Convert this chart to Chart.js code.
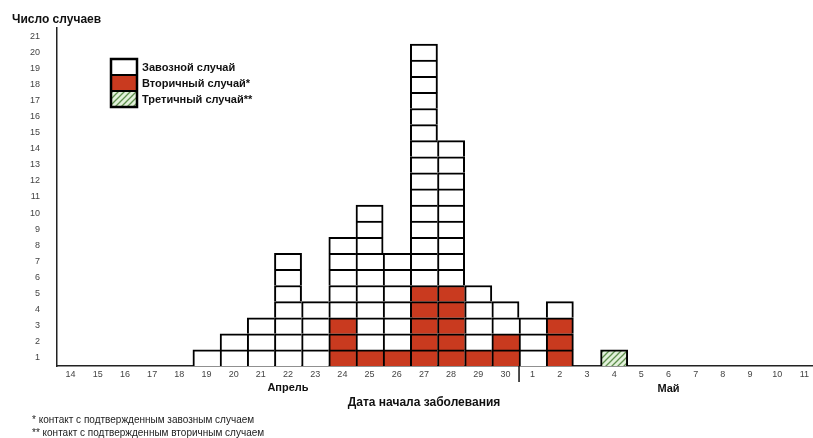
<!DOCTYPE html>
<html>
<head>
<meta charset="utf-8">
<script src="https://cdn.jsdelivr.net/npm/chart.js@4.4.1/dist/chart.umd.min.js"></script>
<style>
  html, body { margin: 0; padding: 0; background: #fff; overflow: hidden; }
  #wrap { position: relative; width: 818px; height: 438px; }
</style>
</head>
<body>
<div id="wrap"><canvas id="graf"></canvas></div>
<script>
// дни: 14–30 апреля, 1–11 мая
const dias = ['14','15','16','17','18','19','20','21','22','23','24','25','26','27','28','29','30',
              '1','2','3','4','5','6','7','8','9','10','11'];
const vtoricnye = [0,0,0,0,0,0,0,0,0,0,3,1,1,5,5,1,2, 0,3,0,0,0,0,0,0,0,0,0];
const zavoznye  = [0,0,0,0,0,1,2,3,7,4,5,9,6,15,9,4,2, 3,1,0,0,0,0,0,0,0,0,0];
const tretichnye = [0,0,0,0,0,0,0,0,0,0,0,0,0,0,0,0,0, 0,0,0,1,0,0,0,0,0,0,0];
const yMarcas = [1,2,3,4,5,6,7,8,9,10,11,12,13,14,15,16,17,18,19,20,21];

const VERMELHO = '#c93a1f';
const fonte = '"Liberation Sans", Arial, sans-serif';

// штриховка для третичных случаев
const hachura = (() => {
  const c = document.createElement('canvas');
  c.width = 6; c.height = 6;
  const g = c.getContext('2d');
  g.fillStyle = '#e2f1da';
  g.fillRect(0, 0, 6, 6);
  g.strokeStyle = '#5e8f4c';
  g.lineWidth = 1.3;
  g.beginPath();
  g.moveTo(-1, 7); g.lineTo(7, -1);
  g.moveTo(-4, 4); g.lineTo(4, -4);
  g.moveTo(2, 10); g.lineTo(10, 2);
  g.stroke();
  return g.createPattern(c, 'repeat');
})();

const total = dias.map((_, i) => vtoricnye[i] + zavoznye[i] + tretichnye[i]);
const niveis = Math.max(...total);

const corCaixa = (nivel, i) => {
  if (nivel < vtoricnye[i]) return VERMELHO;
  if (nivel < vtoricnye[i] + zavoznye[i]) return '#ffffff';
  return hachura;
};

// каждый ярус — отдельный набор, чтобы каждый случай был своей клеткой
const datasets = [];
for (let k = 0; k < niveis; k++) {
  datasets.push({
    data: total.map(t => t > k ? 1 : null),
    backgroundColor: ctx => corCaixa(k, ctx.dataIndex),
    borderColor: '#000',
    borderWidth: ctx => {
      const i = ctx.dataIndex;
      const proxVazio = i + 1 >= total.length || total[i + 1] <= k;
      return { top: 2, left: 2, right: proxVazio ? 2 : 0, bottom: 0 };
    },
    borderSkipped: false,
    barPercentage: 1,
    categoryPercentage: 1
  });
}

const extras = {
  id: 'extras',
  afterDraw(chart) {
    const { ctx, scales: { x } } = chart;
    const base = chart.chartArea.bottom;
    ctx.save();

    // заголовок оси Y
    ctx.fillStyle = '#111';
    ctx.font = `bold 12px ${fonte}`;
    ctx.textAlign = 'left';
    ctx.textBaseline = 'middle';
    ctx.fillText('Число случаев', 12, 20);

    // разделитель апрель/май
    const sep = (x.getPixelForValue(16) + x.getPixelForValue(17)) / 2;
    ctx.strokeStyle = '#111';
    ctx.lineWidth = 1.5;
    ctx.beginPath();
    ctx.moveTo(sep, base);
    ctx.lineTo(sep, base + 16);
    ctx.stroke();

    // месяцы
    ctx.font = `bold 11px ${fonte}`;
    ctx.textAlign = 'center';
    ctx.fillText('Апрель', x.getPixelForValue(8), base + 22);
    ctx.fillText('Май', x.getPixelForValue(22), base + 23);

    // подпись оси X
    ctx.font = `bold 12px ${fonte}`;
    ctx.fillText('Дата начала заболевания', 424, base + 37);

    // сноски
    ctx.font = `10px ${fonte}`;
    ctx.textAlign = 'left';
    ctx.fillStyle = '#222';
    ctx.fillText('* контакт с подтвержденным завозным случаем', 32, 420);
    ctx.fillText('** контакт с подтвержденным вторичным случаем', 32, 433);

    // легенда
    const itens = [
      ['Завозной случай', '#ffffff'],
      ['Вторичный случай*', VERMELHO],
      ['Третичный случай**', hachura]
    ];
    const lx = 111, ly = 59, lw = 26, lh = 16;
    itens.forEach(([txt, cor], j) => {
      const y0 = ly + j * lh;
      ctx.fillStyle = cor;
      ctx.fillRect(lx, y0, lw, lh);
      ctx.strokeStyle = '#000';
      ctx.lineWidth = 2;
      ctx.strokeRect(lx, y0, lw, lh);
      ctx.fillStyle = '#111';
      ctx.font = `bold 11px ${fonte}`;
      ctx.fillText(txt, lx + lw + 5, y0 + lh / 2 + 0.5);
    });
    ctx.lineWidth = 2.5;
    ctx.strokeRect(lx, ly, lw, lh * 3);
    ctx.restore();
  }
};

new Chart(document.getElementById('graf'), {
  type: 'bar',
  data: { labels: dias, datasets },
  options: {
    responsive: true,
    maintainAspectRatio: false,
    animation: false,
    layout: { padding: { top: 28, left: 0, right: 0, bottom: 0 } },
    plugins: { legend: { display: false }, tooltip: { enabled: false } },
    scales: {
      x: {
        stacked: true,
        grid: { display: false },
        border: { display: true, color: '#222', width: 1.5 },
        ticks: { color: '#444', font: { family: fonte, size: 9 }, padding: -5, maxRotation: 0, autoSkip: false },
        afterFit: s => { s.height = 72; }
      },
      y: {
        stacked: true,
        min: 0,
        max: 21,
        grid: { display: false },
        border: { display: true, color: '#222', width: 1.5 },
        afterBuildTicks: axis => { axis.ticks = yMarcas.map(v => ({ value: v - 0.5 })); },
        ticks: {
          color: '#444',
          font: { family: fonte, size: 9 },
          padding: 9,
          callback: v => Math.round(v + 0.5)
        },
        afterFit: s => { s.width = 57; }
      }
    }
  },
  plugins: [extras]
});
</script>
</body>
</html>
